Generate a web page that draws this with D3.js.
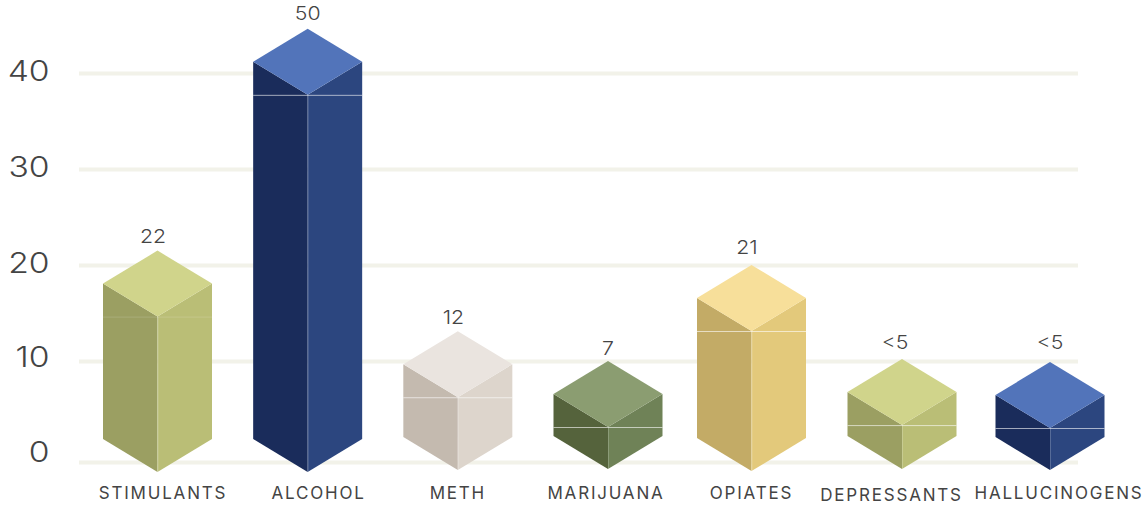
<!DOCTYPE html>
<html>
<head>
<meta charset="utf-8">
<script src="https://cdn.jsdelivr.net/npm/d3@7"></script>
<style>
  html, body { margin: 0; padding: 0; background: #fff; }
  text { font-family: Inter, "Noto Sans", sans-serif; fill: #444; }
</style>
</head>
<body>
<div id="chart"></div>
<script>
const categories = ['STIMULANTS', 'ALCOHOL', 'METH', 'MARIJUANA', 'OPIATES', 'DEPRESSANTS', 'HALLUCINOGENS'];
const valueLabels = ['22', '50', '12', '7', '21', '<5', '<5'];
// top and bottom tip of each block, read against the y axis
const blockTop = [21.5, 44.6, 13.1, 10, 20, 10.2, 9.9];
const blockBottom = [-1, -1, -0.8, -0.7, -0.9, -0.7, -0.8];
const yTicks = [0, 10, 20, 30, 40];
const topColors = ['#d0d48b', '#5274ba', '#eae4df', '#8b9d71', '#f7df9a', '#d0d48b', '#5274ba'];
const leftColors = ['#9b9f62', '#1a2c5b', '#c4baaf', '#55633c', '#c3ab66', '#9b9f62', '#1a2c5b'];
const rightColors = ['#babe76', '#2c467f', '#ddd5cc', '#6f8257', '#e3c97b', '#babe76', '#2c467f'];

const width = 1148, height = 506;
const halfW = 54.5, halfH = 33;

// the spacing of the original is not quite even, so both scales have knots
const x = d3.scaleLinear().domain([0, 3, 4, 5, 6]).range([157.5, 608, 751.5, 902, 1050]);
const y = d3.scaleLinear().domain([0, 10, 40]).range([462, 361, 73]);

const svg = d3.select('#chart')
  .append('svg')
    .attr('width', width)
    .attr('height', height)
    .style('display', 'block');

// Axis + grid
const axis = svg.append('g')
  .attr('transform', 'translate(79,0)')
  .call(d3.axisLeft(y).tickValues(yTicks).tickSize(-999).tickPadding(30));
axis.select('.domain').remove();
axis.selectAll('.tick line')
  .attr('stroke', '#f2f2e9')
  .attr('stroke-width', 4);
const tickNudge = { 0: -10, 10: -4, 20: -2, 30: -2, 40: -2 };
// digits of the original are wider than Inter, so stretch them
axis.selectAll('.tick text')
  .attr('x', 0)
  .attr('dy', d => (tickNudge[d] + 9.5) + 'px')
  .attr('transform', 'translate(-29.5,0) scale(1.2,1)')
  .style('font-size', '28px')
  .style('font-weight', 300)
  .style('fill', '#444');

const line = d3.line();

// Blocks
const blocks = svg.append('g')
  .selectAll('g')
  .data(categories)
  .enter()
  .append('g')
    .attr('class', 'block');

blocks.each(function(d, i) {
  const g = d3.select(this);
  const cx = x(i), apex = y(blockTop[i]), tip = y(blockBottom[i]);
  const front = apex + 2 * halfH;

  g.append('path')
    .attr('fill', leftColors[i])
    .attr('d', line([[cx - halfW, apex + halfH], [cx, front], [cx, tip], [cx - halfW, tip - halfH]]) + 'Z');
  g.append('path')
    .attr('fill', rightColors[i])
    .attr('d', line([[cx + halfW, apex + halfH], [cx, front], [cx, tip], [cx + halfW, tip - halfH]]) + 'Z');
  g.append('path')
    .attr('fill', topColors[i])
    .attr('d', line([[cx, apex], [cx + halfW, apex + halfH], [cx, front], [cx - halfW, apex + halfH]]) + 'Z');

  // thin light edges
  g.append('line')
    .attr('x1', cx - halfW).attr('x2', cx + halfW)
    .attr('y1', front + 0.5).attr('y2', front + 0.5)
    .attr('stroke', '#fff').attr('stroke-opacity', i === 0 ? 0.15 : 0.6);
  g.append('line')
    .attr('x1', cx + 0.5).attr('x2', cx + 0.5)
    .attr('y1', front).attr('y2', tip)
    .attr('stroke', '#fff').attr('stroke-opacity', 0.2);
});

// Value labels, hand placed in the original
const valueShift = [-4.5, 0, -4.5, 0, -4.5, -7, 0];
const valueLift = [7.5, 9, 7.5, 6.5, 11, 10.5, 13.5];
svg.append('g')
  .selectAll('text')
  .data(valueLabels)
  .enter()
  .append('text')
    .attr('transform', (d, i) => 'translate(' + (x(i) + valueShift[i]) + ',' + (y(blockTop[i]) - valueLift[i]) + ') scale(1.15,1)')
    .attr('text-anchor', 'middle')
    .style('font-size', '18.5px')
    .style('font-weight', 350)
    .text(d => d);

// Category labels
const labelShift = [5.5, 11, 0, -2, 0, -10.5, 9];
const labelDrop = [0, 0, 0, 0, 0, 2, 0];
svg.append('g')
  .selectAll('text')
  .data(categories)
  .enter()
  .append('text')
    .attr('x', (d, i) => x(i) + labelShift[i])
    .attr('y', (d, i) => 499 + labelDrop[i])
    .attr('text-anchor', 'middle')
    .style('font-size', '17px')
    .style('letter-spacing', '1.8px')
    .text(d => d);
</script>
</body>
</html>
